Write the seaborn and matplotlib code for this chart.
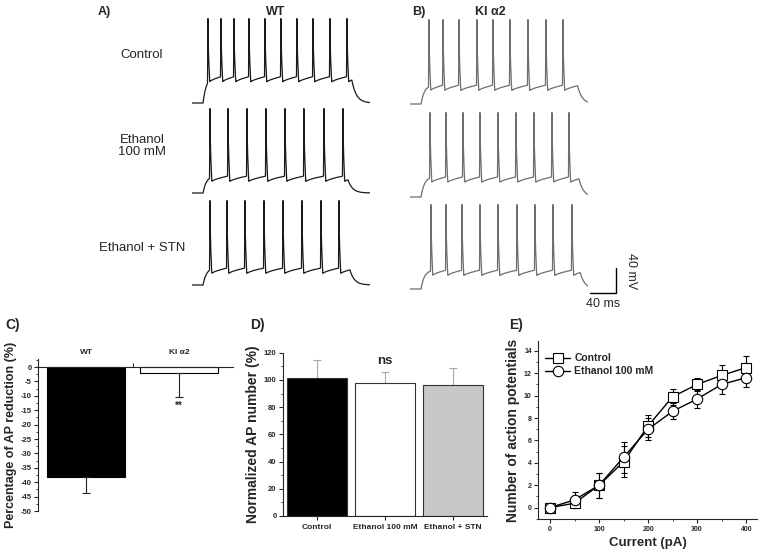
import numpy as np
import pandas as pd
import matplotlib
matplotlib.use("Agg")
import matplotlib.pyplot as plt
import seaborn as sns
from matplotlib.ticker import MultipleLocator

sns.set_theme(style="ticks")
plt.rcParams['font.family'] = ['Liberation Sans', 'DejaVu Sans']
plt.rcParams['axes.unicode_minus'] = False
plt.rcParams['axes.linewidth'] = 0.8

# ---- A/B: spike times (ms from sweep start) ----
wt_spikes = [
    [24.6, 44.6, 64.6, 87.7, 112.3, 136.9, 161.5, 186.2, 212.3, 238.5],  # control
    [27.7, 55.4, 84.6, 113.8, 143.1, 172.3, 203.1, 232.3],               # ethanol
    [27.7, 53.8, 81.5, 110.8, 140.0, 169.2, 198.5, 226.2],               # ethanol + STN
]
ki_spikes = [
    [29.2, 50.8, 75.4, 103.1, 127.7, 153.8, 181.5, 209.2, 235.4],
    [30.8, 55.4, 81.5, 107.7, 135.4, 163.1, 190.8, 218.5, 244.6],
    [32.3, 55.4, 80.0, 107.7, 135.4, 164.6, 192.3, 220.0, 249.2],
]
wt_ahp = [-40, -55, -55]          # mV, trough after each spike
ki_ahp = [-52, -50, -52]
wt_step_off = [246, 240, 243]     # ms, end of current step
ki_step_off = [258, 260, 262]
row_labels = ["Control", "Ethanol\n100 mM", "Ethanol + STN"]

# ---- C ----
genotypes = ["WT", "KI \u03b12"]
ap_reduction = [-38.3, -2.0]
ap_reduction_sem = [5.5, 8.3]

# ---- D ----
conditions = ["Control", "Ethanol 100 mM", "Ethanol + STN"]
ap_normalized = [101.5, 98.0, 96.5]
ap_normalized_sem = [13.5, 8.0, 12.0]

# ---- E ----
current_pa = [0, 50, 100, 150, 200, 250, 300, 350, 400]
n_ap_control = [0.0, 0.4, 2.0, 4.1, 7.3, 9.9, 11.0, 11.8, 12.5]
n_ap_control_sem = [0.0, 0.3, 1.1, 1.4, 1.0, 0.7, 0.6, 0.9, 1.0]
n_ap_ethanol = [0.0, 0.7, 2.0, 4.5, 7.0, 8.6, 9.7, 11.0, 11.6]
n_ap_ethanol_sem = [0.0, 0.7, 1.1, 1.4, 1.0, 0.7, 0.8, 0.9, 0.85]

REST, PEAK, STEP_ON = -70.0, 65.0, 17.0
W, H = 758, 549
fig = plt.figure(figsize=(W / 100, H / 100), dpi=100)


def rect(x0, y0, x1, y1):
    return [x0 / W, 1 - y1 / H, (x1 - x0) / W, (y1 - y0) / H]


def fig_text(x, y, s, **kw):
    fig.text(x / W, 1 - y / H, s, **kw)


def make_trace(spikes, ahp, off, t):
    """Schematic current-clamp sweep built around the measured spike times"""
    v = np.full(t.shape, REST)
    thr = ahp + 12
    isi = np.diff(spikes).mean()
    ends = list(spikes[1:]) + [spikes[-1] + isi]
    pre = (t >= STEP_ON) & (t < spikes[0])
    v[pre] = REST + (thr - REST) * (1 - np.exp(-(t[pre] - STEP_ON) / 5))
    for s, e in zip(spikes, ends):
        m = (t >= s) & (t < e)
        v[m] = ahp + (thr - ahp) * np.sqrt((t[m] - s) / (e - s))
        rise = (t >= s - 0.7) & (t < s)
        v[rise] = thr + (PEAK - thr) * (t[rise] - (s - 0.7)) / 0.7
        fall = (t >= s) & (t < s + 3)
        v[fall] = np.maximum(v[fall], PEAK - (PEAK - ahp) * ((t[fall] - s) / 3) ** 0.5)
    post = t >= off
    v_off = v[np.argmax(post)]
    v[post] = REST + (v_off - REST) * np.exp(-(t[post] - off) / 7)
    return v


t = np.arange(0, 274, 0.05)
trace_axes = []
for col, (spk, ahps, offs, x0, tops, color) in enumerate([
        (wt_spikes, wt_ahp, wt_step_off, 192, [10.5, 100.5, 192.5], "#1a1a1a"),
        (ki_spikes, ki_ahp, ki_step_off, 410, [11.5, 104.5, 196.5], "#6e6e6e")]):
    for row in range(3):
        ax = fig.add_axes(rect(x0, tops[row], x0 + 178, tops[row] + 100))
        v = make_trace(spk[row], ahps[row], offs[row], t)
        sns.lineplot(x=t, y=v, ax=ax, color=color, lw=0.9)
        ax.set_xlim(0, 274)
        ax.set_ylim(-82, 78)
        ax.axis("off")
        trace_axes.append(ax)

# scale bar: 40 ms / 40 mV
sb = trace_axes[-1]
sb_t, sb_v = 277, -76.4
sb.plot([sb_t, sb_t + 40, sb_t + 40], [sb_v, sb_v, sb_v + 40], color="black", lw=1, clip_on=False)
fig_text(603, 304, "40 ms", ha="center", va="center", fontsize=9)
fig_text(631, 271, "40 mV", ha="center", va="center", fontsize=9, rotation=-90)

for label, y in zip(row_labels, [55, 146, 248]):
    fig_text(142, y, label, ha="center", va="center", fontsize=9.5, linespacing=1.1)

fig_text(98, 12, "A)", ha="left", va="center", fontsize=9, fontweight="bold")
fig_text(276, 12, "WT", ha="center", va="center", fontsize=9, fontweight="bold")
fig_text(412, 12, "B)", ha="left", va="center", fontsize=9, fontweight="bold")
fig_text(490, 12, "KI \u03b12", ha="center", va="center", fontsize=9, fontweight="bold")

bold = {"fontweight": "bold"}

# ---- C ----
axC = fig.add_axes(rect(38, 359, 233, 511))
sns.barplot(x=genotypes, y=ap_reduction, hue=genotypes, palette=["black", "white"],
            edgecolor="black", linewidth=0.8, width=0.84, legend=False, ax=axC)
axC.errorbar(range(2), ap_reduction, yerr=[ap_reduction_sem, [0, 0]], fmt="none",
             ecolor="#222222", elinewidth=0.8, capsize=3, capthick=0.8)
axC.text(1, -13.5, "**", ha="center", va="center", fontsize=7, **bold)
axC.set_xlim(-0.52, 1.58)
axC.set_ylim(-50, 2.8)
axC.spines["bottom"].set_position(("data", 0))
axC.spines[["top", "right"]].set_visible(False)
axC.set_xticks([0, 1])
axC.set_xticklabels(genotypes, fontsize=6, **bold)
axC.tick_params(axis="x", length=0, labelbottom=False, labeltop=True, pad=2)
axC.xaxis.set_minor_locator(matplotlib.ticker.FixedLocator([0.5]))
axC.tick_params(axis="x", which="minor", direction="in", length=3, width=0.8)
axC.set_yticks(range(-50, 1, 5))
axC.yaxis.set_minor_locator(MultipleLocator(2.5))
axC.tick_params(axis="y", which="major", length=3, width=0.8, labelsize=5.5, pad=1.5)
axC.tick_params(axis="y", which="minor", length=1.5, width=0.6)
for lab in axC.get_yticklabels():
    lab.set_fontweight("bold")
axC.set_xlabel("")
axC.set_ylabel("Percentage of AP reduction (%)", fontsize=9, labelpad=3, **bold)

# ---- D ----
axD = fig.add_axes(rect(283, 352.7, 487, 516))
sns.barplot(x=conditions, y=ap_normalized, hue=conditions,
            palette=["black", "white", "#c8c8c8"], edgecolor="#333333",
            linewidth=0.8, width=0.88, legend=False, ax=axD)
axD.errorbar(range(3), ap_normalized, yerr=[[0, 0, 0], ap_normalized_sem], fmt="none",
             ecolor="#aaaaaa", elinewidth=0.8, capsize=3, capthick=0.8, zorder=0)
axD.text(1, 114, "ns", ha="center", va="center", fontsize=9.5, **bold)
axD.set_xlim(-0.5, 2.5)
axD.set_ylim(0, 120)
axD.spines[["top", "right"]].set_visible(False)
axD.set_yticks(range(0, 121, 20))
axD.yaxis.set_minor_locator(MultipleLocator(10))
axD.tick_params(axis="both", which="major", length=3, width=0.8, labelsize=5.5, pad=1.5)
axD.tick_params(axis="y", which="minor", length=1.5, width=0.6)
axD.tick_params(axis="x", labelsize=6, pad=3)
for lab in axD.get_yticklabels() + axD.get_xticklabels():
    lab.set_fontweight("bold")
axD.set_xlabel("")
axD.set_ylabel("Normalized AP number (%)", fontsize=10, labelpad=3, **bold)

# ---- E ----
axE = fig.add_axes(rect(538, 340.7, 757, 519.3))
axE.errorbar(current_pa, n_ap_control, yerr=n_ap_control_sem, fmt="none",
             ecolor="black", elinewidth=0.8, capsize=2, capthick=0.8)
axE.errorbar(current_pa, n_ap_ethanol, yerr=n_ap_ethanol_sem, fmt="none",
             ecolor="black", elinewidth=0.8, capsize=2, capthick=0.8)
sns.lineplot(x=current_pa, y=n_ap_control, marker="s", markersize=6.5, color="black",
             mfc="white", mec="black", mew=0.8, lw=1, label="Control", ax=axE)
sns.lineplot(x=current_pa, y=n_ap_ethanol, marker="o", markersize=7.5, color="black",
             mfc="white", mec="black", mew=0.8, lw=1, label="Ethanol 100 mM", ax=axE)
axE.legend(loc="upper left", bbox_to_anchor=(0.0, 0.97), frameon=False,
           prop={"size": 7.5, "weight": "bold"}, handlelength=2.4, handletextpad=0.4,
           labelspacing=0.3, borderaxespad=0.3)
axE.set_xlim(-24.5, 422)
axE.set_ylim(-1.04, 14.9)
axE.spines[["top", "right"]].set_visible(False)
axE.set_xticks(range(0, 401, 100))
axE.set_yticks(range(0, 15, 2))
axE.xaxis.set_minor_locator(MultipleLocator(50))
axE.yaxis.set_minor_locator(MultipleLocator(1))
axE.tick_params(axis="both", which="major", length=3, width=0.8, labelsize=5, pad=1.5)
axE.tick_params(axis="both", which="minor", length=1.5, width=0.6)
for lab in axE.get_yticklabels() + axE.get_xticklabels():
    lab.set_fontweight("bold")
axE.set_xlabel("Current (pA)", fontsize=9.5, labelpad=3, **bold)
axE.set_ylabel("Number of action potentials", fontsize=10, labelpad=3, **bold)

fig_text(5, 325, "C)", ha="left", va="center", fontsize=10, **bold)
fig_text(250, 325, "D)", ha="left", va="center", fontsize=10, **bold)
fig_text(509, 325, "E)", ha="left", va="center", fontsize=10, **bold)

fig.savefig("out.png", dpi=100)
